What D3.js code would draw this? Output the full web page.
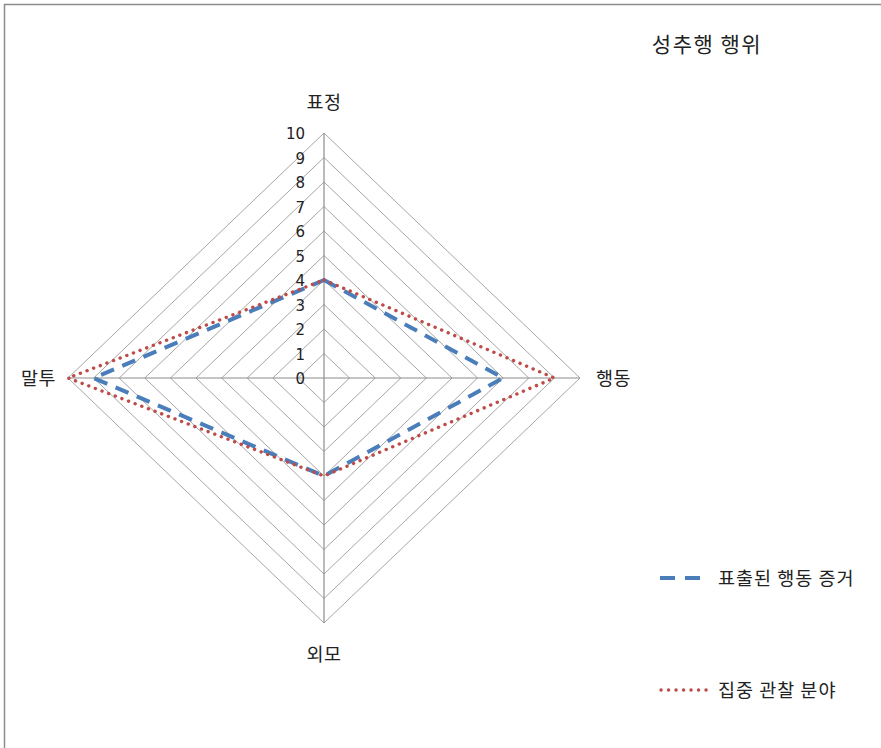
<!DOCTYPE html>
<html><head><meta charset="utf-8">
<script src="https://cdn.jsdelivr.net/npm/d3@7"></script>
<style>body{margin:0;background:#fff}svg{display:block}</style>
</head><body>
<script>
const title = "성추행 행위";
const categories = ["표정", "행동", "외모", "말투"];
const seriesNames = ["표출된 행동 증거", "집중 관찰 분야"];
const evidence = [4, 7, 4, 9];
const focus = [4, 9, 4, 10];
const ticks = [0,1,2,3,4,5,6,7,8,9,10];

const W = 881, H = 748;
const cx = 324, cy = 378;
const svg = d3.select("body").append("svg").attr("width", W).attr("height", H);
const kfont = "'Noto Sans CJK KR','Noto Sans',sans-serif";

// frame (top & left visible)
svg.append("line").attr("x1",4).attr("y1",4.5).attr("x2",W).attr("y2",4.5).attr("stroke","#8c8c8c").attr("stroke-width",1.5);
svg.append("line").attr("x1",4.5).attr("y1",4).attr("x2",4.5).attr("y2",H).attr("stroke","#8c8c8c").attr("stroke-width",1.5);

const rx = d3.scaleLinear().domain([0,10]).range([0,256]);
const ry = d3.scaleLinear().domain([0,10]).range([0,245]);
const angle = d3.scalePoint().domain(categories).range([0, 2*Math.PI*3/4]);
function pt(cat, v){
  const a = angle(cat);
  return [cx + Math.sin(a)*rx(v), cy - Math.cos(a)*ry(v)];
}

const g = svg.append("g");
// rings
ticks.filter(t=>t>0).forEach(t=>{
  g.append("path").attr("d", d3.line()(categories.map(c=>pt(c,t))) + "Z")
   .attr("fill","none").attr("stroke","#a6a6a6").attr("stroke-width",1);
});
// spokes
categories.forEach(c=>{
  const [x,y] = pt(c,10);
  g.append("line").attr("x1",cx).attr("y1",cy).attr("x2",x).attr("y2",y)
   .attr("stroke","#8c8c8c").attr("stroke-width",1.2);
});
// tick labels
ticks.forEach(t=>{
  g.append("text").attr("x",cx-19).attr("y",cy-ry(t)+6).attr("text-anchor","end")
   .attr("font-family","'DejaVu Sans',Verdana,sans-serif").attr("font-size",15).attr("fill","#222")
   .text(t);
});
// category labels
const labPos = {"표정":[0,-24,"middle"], "행동":[16,7,"start"], "외모":[0,38,"middle"], "말투":[-12,7,"end"]};
categories.forEach(c=>{
  const [x,y] = pt(c,10);
  const o = labPos[c];
  g.append("text").attr("x",x+o[0]).attr("y",y+o[1]).attr("text-anchor",o[2])
   .attr("font-family",kfont).attr("font-size",18.5).attr("letter-spacing",0.5).attr("fill","#222").text(c);
});

const styles = [
  {color:"#4a7ebb", width:4, dash:"14,9", cap:"butt"},
  {color:"#be4b48", width:3.4, dash:"0.1,7", cap:"round"}
];
[evidence, focus].forEach((vals,i)=>{
  const s = styles[i];
  svg.append("path").attr("d", d3.line()(categories.map((c,j)=>pt(c,vals[j]))) + "Z")
    .attr("fill","none").attr("stroke",s.color).attr("stroke-width",s.width)
    .attr("stroke-dasharray",s.dash).attr("stroke-linecap",s.cap).attr("stroke-linejoin","round");
});

// title
svg.append("text").attr("x",707).attr("y",52).attr("text-anchor","middle")
  .attr("font-family",kfont).attr("font-size",21).attr("letter-spacing",1.5).attr("fill","#222").text(title);

// legend
const legY = [578, 690];
seriesNames.forEach((n,i)=>{
  const s = styles[i];
  svg.append("line").attr("x1",i===0?660:661).attr("x2",708).attr("y1",legY[i]).attr("y2",legY[i])
    .attr("stroke",s.color).attr("stroke-width",s.width).attr("stroke-dasharray",i===0?"15,10":"0.1,7.4")
    .attr("stroke-linecap",s.cap);
  svg.append("text").attr("x",718).attr("y",legY[i]+7).attr("font-family",kfont)
    .attr("font-size",18.5).attr("letter-spacing",1).attr("fill","#222").text(n);
});
</script>
</body></html>
